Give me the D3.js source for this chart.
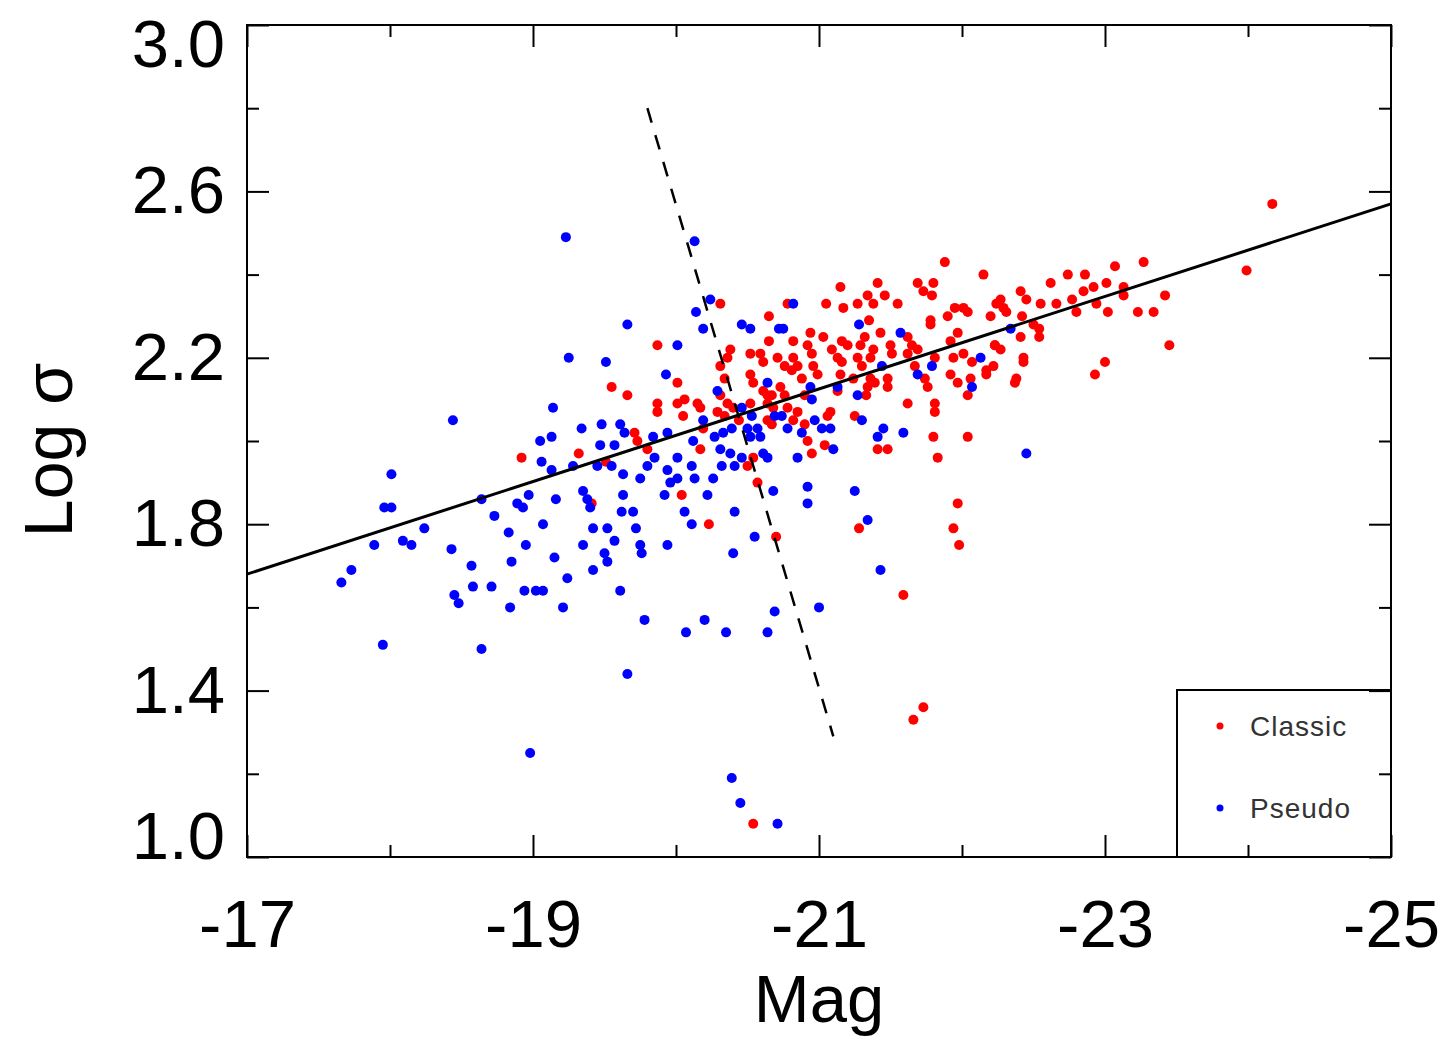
<!DOCTYPE html>
<html>
	<head>
		<meta charset="utf-8">
		<title>Log sigma vs Mag</title>
		<style>
			body { margin: 0; background: #fff; }
			#graph text { font-family: "Liberation Sans", Arial, Helvetica, sans-serif; fill: #000; }
			#graph .tick line { stroke: #000; stroke-width: 2; }
		</style>
	</head>
	<body>
		<svg id="graph" width="1449" height="1042"></svg>

		<script src="https://cdn.jsdelivr.net/npm/d3@7/dist/d3.min.js"></script>
		<script>
			"use strict";

			// bulge types
			var classicMag = [-18.92, -20.31, -20.65, -19.87, -20.38, -20.36, -20.31, -20.52, -20.59, -20.65,
				-20.71, -20.61, -20.52, -20.54, -20.01, -19.55, -19.66, -20.34, -20.31, -20.61,
				-20.64, -20.36, -20.40, -20.52, -20.68, -19.87, -19.87, -20.01, -20.06, -20.15,
				-20.17, -20.05, -20.29, -20.34, -20.44, -20.64, -20.67, -20.19, -19.71, -19.73,
				-19.80, -20.17, -20.54, -19.32, -19.51, -20.50, -20.57, -20.04, -20.23, -20.70,
				-19.41, -21.88, -22.15, -21.41, -21.15, -21.69, -21.80, -21.73, -21.79, -20.78,
				-21.05, -21.27, -21.34, -21.38, -21.46, -21.55, -21.17, -21.35, -21.78, -21.78,
				-21.95, -22.01, -22.04, -21.90, -22.24, -22.20, -20.94, -20.82, -21.03, -21.16,
				-21.32, -21.43, -21.62, -21.97, -20.92, -21.09, -21.20, -21.29, -21.38, -21.50,
				-21.65, -21.69, -21.92, -22.23, -20.82, -20.95, -21.13, -21.27, -21.36, -21.51,
				-21.62, -21.81, -22.01, -20.85, -20.96, -21.16, -21.30, -21.67, -21.94, -22.07,
				-22.22, -20.76, -20.81, -20.88, -20.99, -21.15, -21.24, -21.36, -21.48, -21.74,
				-21.92, -22.06, -22.17, -21.97, -20.73, -21.34, -21.39, -21.48, -21.76, -20.67,
				-20.76, -20.90, -21.13, -21.33, -22.04, -21.62, -21.81, -21.81, -20.64, -20.78,
				-20.85, -21.08, -21.06, -21.25, -20.82, -20.90, -21.80, -22.04, -20.92, -21.04,
				-21.41, -21.48, -20.95, -21.83, -21.97, -21.94, -21.98, -21.28, -21.59, -24.17,
				-23.07, -23.27, -23.99, -22.62, -22.74, -22.86, -23.01, -22.92, -22.85, -23.13,
				-23.13, -23.42, -22.41, -22.45, -22.27, -22.29, -22.55, -22.66, -22.77, -22.94,
				-22.80, -23.02, -23.23, -23.34, -22.31, -22.42, -22.50, -22.54, -22.41, -22.54,
				-22.23, -22.27, -22.43, -22.43, -23.45, -22.17, -22.38, -23.00, -22.93, -22.37,
				-21.73, -21.66, -20.54];
			var classicSig = [1.96, 2.33, 2.30, 2.23, 2.22, 2.20, 2.18, 2.21, 2.21, 2.24,
				2.20, 2.19, 2.16, 2.14, 2.14, 2.13, 2.11, 2.15, 2.11, 2.12,
				2.11, 2.09, 2.08, 2.09, 2.08, 2.09, 2.07, 2.09, 2.10, 2.09,
				2.08, 2.06, 2.07, 2.06, 2.05, 2.05, 2.04, 2.03, 2.02, 2.00,
				1.98, 1.98, 1.96, 1.97, 1.95, 1.94, 1.90, 1.87, 1.80, 1.77,
				1.85, 2.43, 2.40, 2.38, 2.37, 2.38, 2.38, 2.36, 2.35, 2.33,
				2.33, 2.33, 2.35, 2.33, 2.35, 2.33, 2.32, 2.29, 2.29, 2.28,
				2.32, 2.32, 2.31, 2.30, 2.33, 2.30, 2.26, 2.24, 2.25, 2.24,
				2.25, 2.26, 2.25, 2.26, 2.23, 2.22, 2.23, 2.23, 2.22, 2.23,
				2.23, 2.22, 2.24, 2.23, 2.20, 2.21, 2.20, 2.20, 2.20, 2.21,
				2.21, 2.20, 2.21, 2.18, 2.18, 2.19, 2.18, 2.18, 2.20, 2.19,
				2.18, 2.18, 2.17, 2.15, 2.16, 2.16, 2.15, 2.15, 2.15, 2.15,
				2.16, 2.15, 2.16, 2.14, 2.13, 2.13, 2.14, 2.13, 2.13, 2.11,
				2.11, 2.11, 2.12, 2.11, 2.11, 2.09, 2.09, 2.07, 2.09, 2.08,
				2.07, 2.07, 2.06, 2.06, 2.05, 2.04, 2.01, 2.01, 2.00, 1.99,
				1.98, 1.98, 1.97, 1.96, 1.85, 1.79, 1.75, 1.79, 1.63, 2.57,
				2.42, 2.43, 2.41, 2.38, 2.40, 2.40, 2.38, 2.37, 2.36, 2.37,
				2.35, 2.35, 2.36, 2.34, 2.34, 2.32, 2.33, 2.33, 2.34, 2.33,
				2.31, 2.31, 2.31, 2.31, 2.31, 2.30, 2.28, 2.27, 2.25, 2.25,
				2.23, 2.22, 2.20, 2.19, 2.23, 2.17, 2.15, 2.19, 2.16, 2.14,
				1.36, 1.33, 1.08];

			var pseudoMag = [-19.14, -18.44, -19.05, -19.13, -19.06, -19.13, -18.01, -17.96, -18.01, -18.97,
				-18.64, -18.89, -18.93, -19.16, -18.73, -19.07, -18.24, -18.83, -17.89, -18.09,
				-18.15, -18.43, -18.95, -19.15, -17.73, -17.66, -18.57, -18.85, -18.58, -18.71,
				-18.45, -18.48, -18.94, -19.02, -19.07, -18.84, -17.95, -18.64, -19.23, -20.13,
				-20.24, -20.14, -20.19, -19.66, -20.46, -20.52, -20.72, -20.01, -19.25, -19.51,
				-20.64, -19.93, -20.29, -20.46, -20.19, -20.53, -20.57, -20.69, -20.39, -20.50,
				-20.52, -20.59, -20.27, -20.33, -20.12, -19.34, -19.48, -19.61, -19.64, -19.84,
				-19.94, -19.47, -19.57, -19.85, -20.01, -20.31, -20.38, -20.46, -20.61, -20.64,
				-19.55, -19.45, -19.28, -19.63, -19.80, -19.94, -20.11, -20.32, -20.41, -19.75,
				-20.01, -20.13, -20.26, -19.96, -20.68, -19.35, -19.38, -19.40, -19.63, -19.62,
				-19.70, -19.92, -20.22, -20.06, -20.41, -19.42, -19.52, -19.72, -20.11, -19.57,
				-19.35, -19.50, -19.52, -19.42, -19.75, -19.76, -19.94, -20.40, -20.55, -19.24,
				-19.61, -19.21, -19.78, -20.20, -20.07, -20.35, -20.64, -20.69, -19.66, -20.82,
				-21.28, -20.75, -21.57, -22.13, -21.44, -21.79, -21.69, -22.07, -20.94, -21.13,
				-20.95, -21.27, -20.74, -20.97, -21.30, -20.78, -20.88, -21.02, -21.08, -21.45,
				-21.59, -21.41, -21.10, -20.85, -20.92, -20.92, -21.25, -21.34, -21.43, -21.00,
				-22.34, -22.45, -18.98, -20.39, -20.45, -20.71];
			var pseudoSig = [2.08, 2.05, 2.00, 2.01, 1.95, 1.93, 1.92, 1.84, 1.84, 1.87,
				1.86, 1.85, 1.84, 1.86, 1.82, 1.80, 1.79, 1.78, 1.75, 1.76,
				1.75, 1.74, 1.75, 1.72, 1.69, 1.66, 1.70, 1.71, 1.65, 1.65,
				1.63, 1.61, 1.64, 1.64, 1.64, 1.60, 1.51, 1.50, 2.49, 2.48,
				2.34, 2.31, 2.27, 2.28, 2.28, 2.27, 2.27, 2.23, 2.20, 2.19,
				2.14, 2.16, 2.12, 2.08, 2.05, 2.06, 2.03, 2.06, 2.03, 2.03,
				2.01, 2.01, 2.01, 2.02, 2.00, 2.03, 2.04, 2.04, 2.02, 2.01,
				2.02, 1.99, 1.99, 1.96, 1.96, 1.98, 1.97, 1.96, 1.97, 1.96,
				1.94, 1.94, 1.94, 1.92, 1.94, 1.93, 1.94, 1.94, 1.94, 1.91,
				1.91, 1.91, 1.91, 1.90, 1.88, 1.88, 1.86, 1.84, 1.87, 1.83,
				1.83, 1.87, 1.87, 1.83, 1.83, 1.79, 1.79, 1.79, 1.80, 1.76,
				1.75, 1.73, 1.71, 1.69, 1.75, 1.73, 1.75, 1.73, 1.77, 1.67,
				1.64, 1.60, 1.57, 1.57, 1.54, 1.54, 1.54, 1.59, 1.44, 2.33,
				2.28, 2.27, 2.26, 2.20, 2.18, 2.18, 2.16, 2.13, 2.13, 2.13,
				2.10, 2.11, 2.06, 2.05, 2.05, 2.03, 2.02, 2.03, 2.03, 2.03,
				2.02, 2.01, 1.98, 1.96, 1.89, 1.85, 1.88, 1.81, 1.69, 1.60,
				2.27, 1.97, 1.25, 1.19, 1.13, 1.08];

			// fitted relation and the dividing line
			var fitLine = [[-17, 1.68], [-25, 2.57]];
			var divLine = [[-19.80, 2.80], [-21.10, 1.29]];

			var xMajor = [-17, -19, -21, -23, -25];
			var xMinor = [-18, -20, -22, -24];
			var yMajor = [1.0, 1.4, 1.8, 2.2, 2.6, 3.0];
			var yMinor = [1.2, 1.6, 2.0, 2.4, 2.8];

			var legendNames = ["Classic", "Pseudo"];
			var legendColors = ["#ff0000", "#0000ff"];

			var plotL = 247, plotR = 1391, plotT = 25, plotB = 857;
			var svg = d3.select("#graph");

			var x = d3.scaleLinear().domain([-17, -25]).range([plotL, plotR]);
			var y = d3.scaleLinear().domain([1, 3]).range([plotB, plotT]);

			// points
			function drawPoints(mags, sigs, color) {
				svg.append("g")
					.selectAll("circle")
					.data(mags)
					.enter()
					.append("circle")
					.attr("cx", function(d){ return x(d); })
					.attr("cy", function(d, i){ return y(sigs[i]); })
					.attr("r", 5)
					.attr("fill", color);
			}
			drawPoints(classicMag, classicSig, legendColors[0]);
			drawPoints(pseudoMag, pseudoSig, legendColors[1]);

			var line = d3.line()
				.x(function(d){ return x(d[0]); })
				.y(function(d){ return y(d[1]); });

			svg.append("path")
				.datum(fitLine)
				.attr("d", line)
				.attr("fill", "none")
				.attr("stroke", "#000")
				.attr("stroke-width", 3);

			svg.append("path")
				.datum(divLine)
				.attr("d", line)
				.attr("fill", "none")
				.attr("stroke", "#000")
				.attr("stroke-width", 2.5)
				.attr("stroke-dasharray", "15,13");

			// axes, ticks pointing inwards on all four sides
			function addAxis(axis, tx, ty) {
				var g = svg.append("g")
					.attr("transform", "translate(" + tx + "," + ty + ")")
					.call(axis);
				g.select(".domain").remove();
				return g;
			}

			var xAxis = addAxis(d3.axisBottom(x).tickValues(xMajor).tickSize(-22).tickSizeOuter(0)
				.tickPadding(42).tickFormat(function(d){ return String(d); }), 0, plotB);
			xAxis.selectAll("text").attr("font-size", 67);
			addAxis(d3.axisBottom(x).tickValues(xMinor).tickSize(-12).tickFormat(""), 0, plotB);
			addAxis(d3.axisTop(x).tickValues(xMajor).tickSize(-22).tickFormat(""), 0, plotT);
			addAxis(d3.axisTop(x).tickValues(xMinor).tickSize(-12).tickFormat(""), 0, plotT);

			var yAxis = addAxis(d3.axisLeft(y).tickValues(yMajor).tickSize(-22).tickSizeOuter(0)
				.tickPadding(22).tickFormat(d3.format(".1f")), plotL, 0);
			yAxis.selectAll("text")
				.attr("font-size", 67)
				.attr("transform", function(d){ return d === 3.0 ? "translate(0,20)" : (d === 1.0 ? "translate(0,-20)" : null); });
			addAxis(d3.axisLeft(y).tickValues(yMinor).tickSize(-12).tickFormat(""), plotL, 0);
			addAxis(d3.axisRight(y).tickValues(yMajor).tickSize(-22).tickFormat(""), plotR, 0);
			addAxis(d3.axisRight(y).tickValues(yMinor).tickSize(-12).tickFormat(""), plotR, 0);

			svg.append("rect")
				.attr("x", plotL)
				.attr("y", plotT)
				.attr("width", plotR - plotL)
				.attr("height", plotB - plotT)
				.attr("fill", "none")
				.attr("stroke", "#000")
				.attr("stroke-width", 2);

			// axis titles
			svg.append("text")
				.attr("x", (plotL + plotR) / 2)
				.attr("y", 1022)
				.attr("text-anchor", "middle")
				.attr("font-size", 67)
				.text("Mag");

			svg.append("text")
				.attr("transform", "translate(72,450) rotate(-90)")
				.attr("text-anchor", "middle")
				.attr("font-size", 68)
				.text("Log σ");

			// legend
			var legend = svg.append("g");
			legend.append("rect")
				.attr("x", 1177)
				.attr("y", 690)
				.attr("width", plotR - 1177)
				.attr("height", plotB - 690)
				.attr("fill", "none")
				.attr("stroke", "#000")
				.attr("stroke-width", 2);

			var item = legend.selectAll(".item")
				.data(legendNames)
				.enter()
				.append("g")
				.attr("class", "item")
				.attr("transform", function(d, i){ return "translate(1220," + (726 + i * 82) + ")"; });
			item.append("circle")
				.attr("r", 3.5)
				.attr("fill", function(d, i){ return legendColors[i]; });
			item.append("text")
				.attr("x", 30)
				.attr("y", 10)
				.attr("font-size", 28)
				.attr("letter-spacing", 1)
				.style("fill", "#333")
				.text(function(d){ return d; });
		</script>
	</body>
</html>
